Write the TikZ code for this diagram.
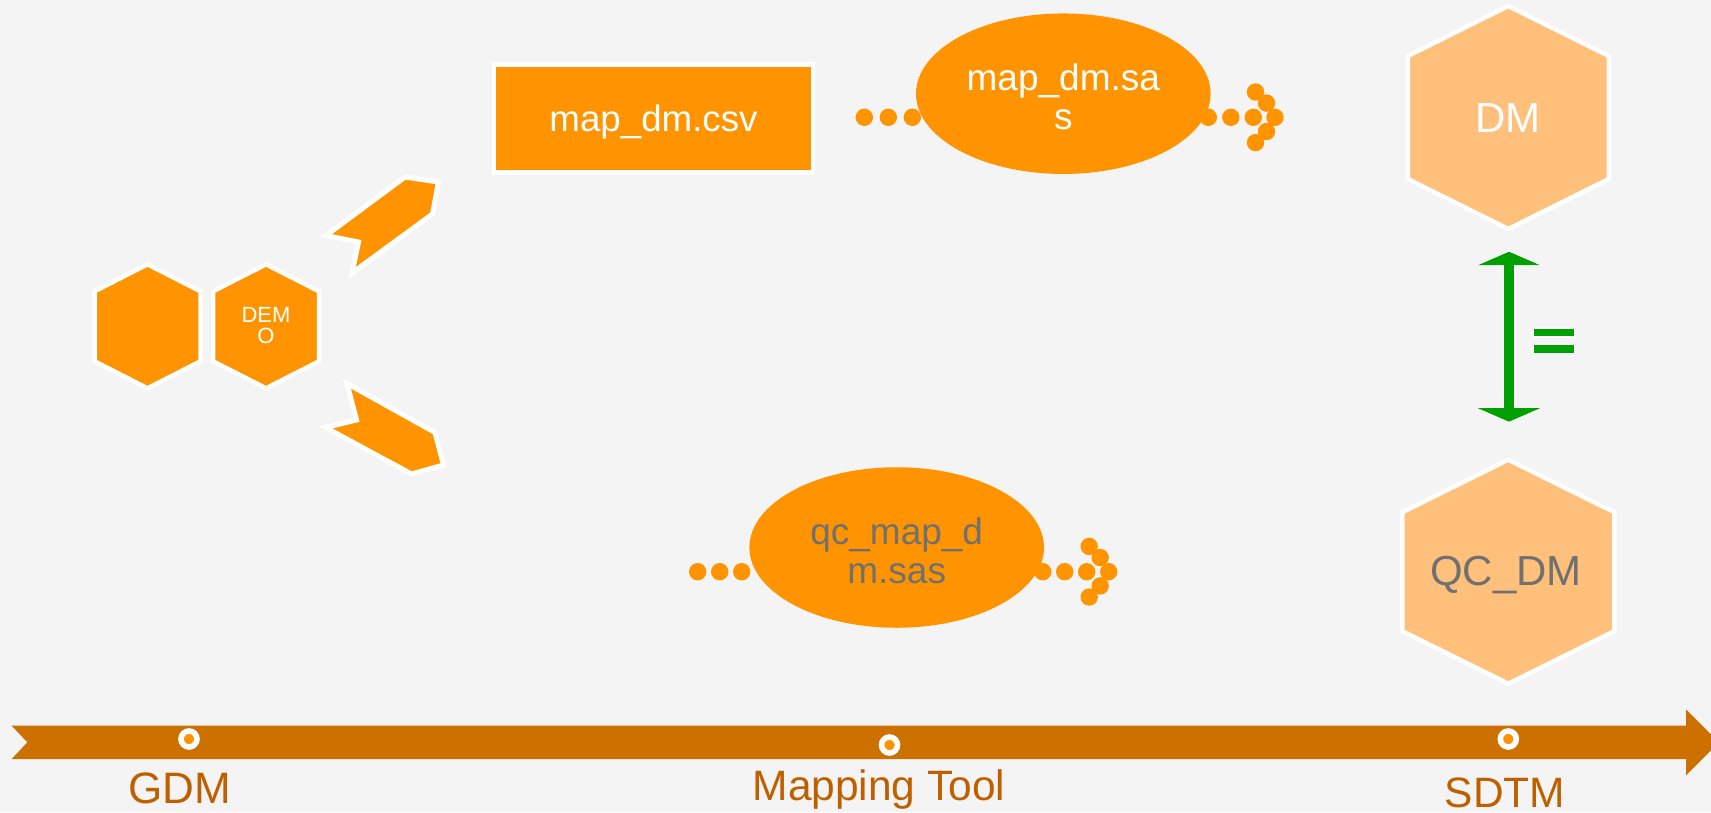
\documentclass[tikz,border=0pt]{standalone}
\usepackage{fontspec}
\setmainfont{Liberation Sans}
\usetikzlibrary{shapes.geometric,arrows.meta,calc}

\definecolor{bg}{HTML}{F4F4F4}
\definecolor{orng}{HTML}{FF9400}
\definecolor{lightorng}{HTML}{FFC07B}
\definecolor{graytxt}{HTML}{707070}
\definecolor{band}{HTML}{CC7000}
\definecolor{bandtxt}{HTML}{BF6000}
\definecolor{grn}{HTML}{00A000}

% hexagon with a pointed top: centre, half-width, half-height, half-side, style
\newcommand{\hexfig}[5]{%
  \draw[#5] ($(#1)+(-#2,-#4)$) -- ($(#1)+(0,-#3)$) -- ($(#1)+(#2,-#4)$)
    -- ($(#1)+(#2,#4)$) -- ($(#1)+(0,#3)$) -- ($(#1)+(-#2,#4)$) -- cycle;}

% arrow head made of five dots, tip at the given coordinate
\newcommand{\dothead}[1]{%
  \foreach \dx/\dy in {0/0,-8.5/-14.2,-19.5/-25.3,-8.5/14.2,-19.5/25.3}
    \fill[orng] ($(#1)+(\dx,\dy)$) circle (8.7pt);}

\begin{document}
\begin{tikzpicture}[x=1pt,y=-1pt,
  hexorange/.style={fill=orng,draw=white,line width=4.5pt,line join=miter},
  hexlight/.style={fill=lightorng,draw=white,line width=4.5pt,line join=miter},
  chevron/.style={fill=orng,draw=white,line width=5pt,line join=miter,miter limit=8},
  filebox/.style={rectangle,fill=orng,draw=white,line width=4.5pt,
    minimum width=319pt,minimum height=108pt,inner sep=0pt,text=white,
    font=\fontsize{36.7}{38.5}\selectfont,text height=30pt,text depth=4pt},
  script/.style={ellipse,fill=orng,minimum width=294.6pt,minimum height=160.5pt,inner sep=0pt},
  scripttext/.style={align=center,inner sep=0pt,font=\fontsize{37}{38.7}\selectfont},
  dotrow/.style={orng,line width=17.4pt,line cap=round,dash pattern=on 0pt off #1},
  milestone/.style={circle,fill=orng,draw=white,line width=5.6pt,minimum size=16pt,inner sep=0pt},
  bandlabel/.style={text=bandtxt,font=\fontsize{42.5}{44}\selectfont,anchor=base,inner sep=0pt},
  biglabel/.style={font=\fontsize{42}{44}\selectfont,inner sep=0pt,text height=30pt,text depth=0pt},
  eqbar/.style={fill=grn,draw=white,line width=1.5pt}
]
\fill[bg] (0,0) rectangle (1711,812);
\useasboundingbox (0,0) rectangle (1711,812);

% ---- timeline band ----
\fill[band] (11.7,725.7) -- (1686,725.7) -- (1686,709.3) -- (1719,742.3)
  -- (1686,775.3) -- (1686,759) -- (11.7,759) -- (27.3,742.3) -- cycle;
\node[milestone] (mgdm) at (189,739) {};
\node[milestone] (mmap) at (889.5,745) {};
\node[milestone] (msdtm) at (1508.3,739) {};
\node[bandlabel,font=\fontsize{44}{46}\selectfont] (lgdm) at (180,803) {GDM};
\node[bandlabel] (lmap) at (879,800) {Mapping Tool};
\node[bandlabel] (lsdtm) at (1505,807) {SDTM};

% ---- GDM domain hexagons ----
\coordinate (h1) at (147.5,326.3);
\coordinate (h2) at (266,326.3);
\hexfig{h1}{53}{62}{35}{hexorange}
\hexfig{h2}{53}{62}{35}{hexorange}
\node[text=white,align=center,inner sep=0pt,font=\fontsize{22}{21}\selectfont] (demo) at (266,326) {DEM\\O};

% ---- chevrons pointing to both branches ----
\draw[chevron] (405,177) -- (438.5,182) -- (432.5,214) -- (352,273)
  -- (358.5,242) -- (326,235.5) -- cycle;
\draw[chevron] (347,383.5) -- (435,432.5) -- (443.5,465) -- (411.5,474)
  -- (325.5,427.5) -- (356.5,420) -- cycle;

% ---- mapping branch ----
\node[filebox] (csv) at (653.5,118.3) {map\_dm.csv};
\node[script] (sas) at (1063.3,93.7) {};
\node[scripttext,text=white] (sastext) at ($(sas)+(0,3)$) {map\_dm.sa\\s};
\coordinate (d1a) at (864.3,117.3);
\coordinate (d1b) at (912.8,117.3);
\coordinate (d1c) at (1208.3,117.3);
\coordinate (d1d) at (1253.8,117.3);
\coordinate (d1tip) at (1275,117.3);
\draw[dotrow=24pt] (d1a) -- (d1b);
\draw[dotrow=22.5pt] (d1c) -- (d1d);
\dothead{d1tip}

% ---- QC branch ----
\node[script] (qcsas) at (896.7,547.5) {};
\node[scripttext,text=graytxt] (qcsastext) at ($(qcsas)+(0,3)$) {qc\_map\_d\\m.sas};
\coordinate (d2a) at (697.7,571.7);
\coordinate (d2b) at (746.2,571.7);
\coordinate (d2c) at (1042.7,571.7);
\coordinate (d2d) at (1087.2,571.7);
\coordinate (d2tip) at (1108.7,571.7);
\draw[dotrow=22pt] (d2a) -- (d2b);
\draw[dotrow=22pt] (d2c) -- (d2d);
\dothead{d2tip}

% ---- SDTM outputs ----
\coordinate (hdm) at (1508.3,117.5);
\coordinate (hqc) at (1508.3,571.7);
\hexfig{hdm}{100.5}{111.5}{61.5}{hexlight}
\hexfig{hqc}{106}{112}{59.5}{hexlight}
\node[biglabel,text=white] (dm) at (1508.3,117.7) {DM};
\node[biglabel,text=graytxt] (qcdm) at (1506,570) {QC\_DM};

% ---- comparison arrow ----
\coordinate (cmpa) at (1509,251.7);
\coordinate (cmpb) at (1509,421.7);
\draw[white,line width=13pt,{Triangle[width=66pt,length=16pt]}-{Triangle[width=66pt,length=16pt]}]
  ($(cmpa)+(0,-2)$) -- ($(cmpb)+(0,2)$);
\draw[grn,line width=10pt,{Triangle[width=61.6pt,length=13.5pt]}-{Triangle[width=61.6pt,length=13.5pt]}]
  (cmpa) -- (cmpb);
\draw[eqbar] (1533.3,328) rectangle (1574.3,337);
\draw[eqbar] (1533.3,344.5) rectangle (1574.3,353.5);
\end{tikzpicture}
\end{document}
